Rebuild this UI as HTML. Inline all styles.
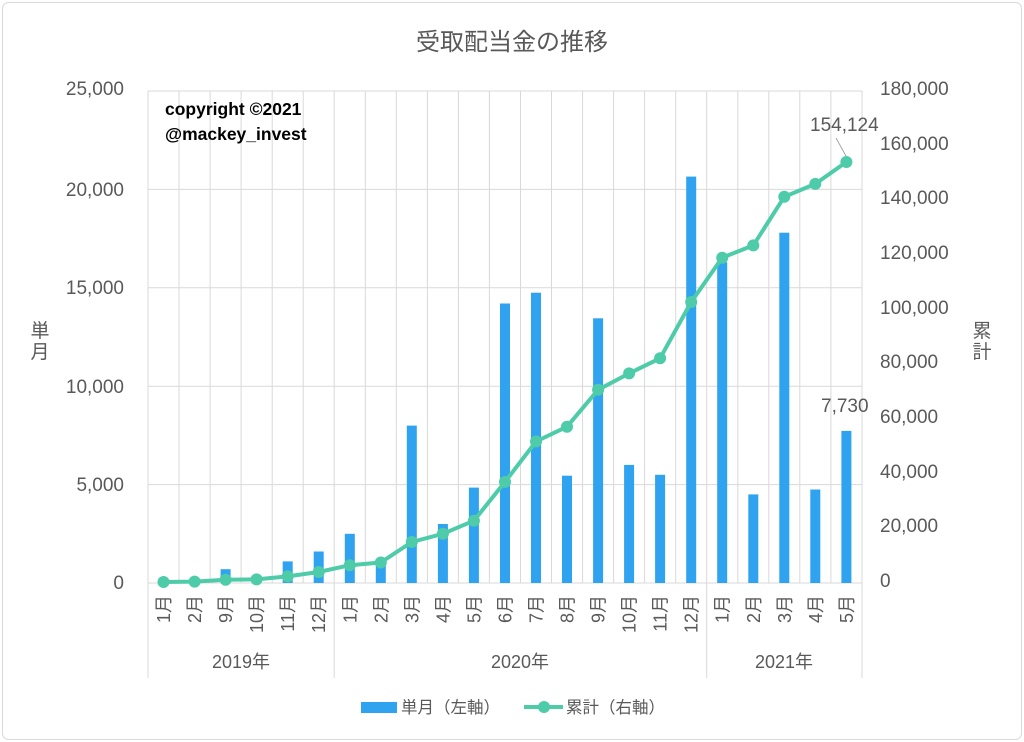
<!DOCTYPE html>
<html><head><meta charset="utf-8"><style>
body{margin:0;background:#fff}
svg{display:block;font-family:"Liberation Sans","Noto Sans CJK JP",sans-serif}
.t{fill:#595959;font-size:19px}
.c{fill:#595959;font-size:18px}
</style></head><body>
<svg width="1024" height="742" viewBox="0 0 1024 742">
<rect x="2.5" y="2.5" width="1019" height="737" rx="6" fill="#fff" stroke="#d9d9d9"/>
<text x="512" y="50" text-anchor="middle" fill="#595959" font-size="24">受取配当金の推移</text>
<g stroke="#d9d9d9" stroke-width="1">
<line x1="148" y1="91" x2="862" y2="91"/><line x1="148" y1="189.4" x2="862" y2="189.4"/><line x1="148" y1="287.8" x2="862" y2="287.8"/><line x1="148" y1="386.2" x2="862" y2="386.2"/><line x1="148" y1="484.6" x2="862" y2="484.6"/>
<line x1="148" y1="91" x2="148" y2="678"/><line x1="179" y1="91" x2="179" y2="583"/><line x1="210.1" y1="91" x2="210.1" y2="583"/><line x1="241.1" y1="91" x2="241.1" y2="583"/><line x1="272.2" y1="91" x2="272.2" y2="583"/><line x1="303.2" y1="91" x2="303.2" y2="583"/><line x1="334.2" y1="91" x2="334.2" y2="678"/><line x1="365.3" y1="91" x2="365.3" y2="583"/><line x1="396.3" y1="91" x2="396.3" y2="583"/><line x1="427.4" y1="91" x2="427.4" y2="583"/><line x1="458.4" y1="91" x2="458.4" y2="583"/><line x1="489.4" y1="91" x2="489.4" y2="583"/><line x1="520.5" y1="91" x2="520.5" y2="583"/><line x1="551.5" y1="91" x2="551.5" y2="583"/><line x1="582.6" y1="91" x2="582.6" y2="583"/><line x1="613.6" y1="91" x2="613.6" y2="583"/><line x1="644.6" y1="91" x2="644.6" y2="583"/><line x1="675.7" y1="91" x2="675.7" y2="583"/><line x1="706.7" y1="91" x2="706.7" y2="678"/><line x1="737.8" y1="91" x2="737.8" y2="583"/><line x1="768.8" y1="91" x2="768.8" y2="583"/><line x1="799.8" y1="91" x2="799.8" y2="583"/><line x1="830.9" y1="91" x2="830.9" y2="583"/><line x1="862" y1="91" x2="862" y2="678"/>
<line x1="148" y1="583" x2="862" y2="583"/>
</g>
<g fill="#2fa3ef">
<rect x="158.5" y="582" width="10" height="1"/><rect x="189.6" y="581" width="10" height="2"/><rect x="220.6" y="569.2" width="10" height="13.8"/><rect x="251.6" y="580" width="10" height="3"/><rect x="282.7" y="561.4" width="10" height="21.6"/><rect x="313.7" y="551.5" width="10" height="31.5"/><rect x="344.8" y="533.8" width="10" height="49.2"/><rect x="375.8" y="563.3" width="10" height="19.7"/><rect x="406.8" y="425.6" width="10" height="157.4"/><rect x="437.9" y="524" width="10" height="59"/><rect x="468.9" y="487.6" width="10" height="95.4"/><rect x="500" y="303.5" width="10" height="279.5"/><rect x="531" y="292.7" width="10" height="290.3"/><rect x="562" y="475.7" width="10" height="107.3"/><rect x="593.1" y="318.3" width="10" height="264.7"/><rect x="624.1" y="464.9" width="10" height="118.1"/><rect x="655.1" y="474.8" width="10" height="108.2"/><rect x="686.2" y="176.6" width="10" height="406.4"/><rect x="717.2" y="262.2" width="10" height="320.8"/><rect x="748.3" y="494.4" width="10" height="88.6"/><rect x="779.3" y="232.7" width="10" height="350.3"/><rect x="810.3" y="489.5" width="10" height="93.5"/><rect x="841.4" y="430.9" width="10" height="152.1"/>
</g>
<polyline fill="none" stroke="#4ecba8" stroke-width="4" stroke-linejoin="round" points="163.5,582 194.6,581.6 225.6,579.7 256.6,579.4 287.7,576.4 318.7,572 349.8,565.2 380.8,562.5 411.8,542 442.9,533.8 473.9,520.7 505,481.9 536,441.5 567,426.7 598.1,389.8 629.1,373.4 660.1,358.3 691.2,302 722.2,257.7 753.3,245.4 784.3,196.8 815.3,183.9 846.4,162"/>
<g fill="#4ecba8">
<circle cx="163.5" cy="582" r="6"/><circle cx="194.6" cy="581.6" r="6"/><circle cx="225.6" cy="579.7" r="6"/><circle cx="256.6" cy="579.4" r="6"/><circle cx="287.7" cy="576.4" r="6"/><circle cx="318.7" cy="572" r="6"/><circle cx="349.8" cy="565.2" r="6"/><circle cx="380.8" cy="562.5" r="6"/><circle cx="411.8" cy="542" r="6"/><circle cx="442.9" cy="533.8" r="6"/><circle cx="473.9" cy="520.7" r="6"/><circle cx="505" cy="481.9" r="6"/><circle cx="536" cy="441.5" r="6"/><circle cx="567" cy="426.7" r="6"/><circle cx="598.1" cy="389.8" r="6"/><circle cx="629.1" cy="373.4" r="6"/><circle cx="660.1" cy="358.3" r="6"/><circle cx="691.2" cy="302" r="6"/><circle cx="722.2" cy="257.7" r="6"/><circle cx="753.3" cy="245.4" r="6"/><circle cx="784.3" cy="196.8" r="6"/><circle cx="815.3" cy="183.9" r="6"/><circle cx="846.4" cy="162" r="6"/>
</g>
<line x1="846" y1="156" x2="836" y2="138" stroke="#a6a6a6"/>
<text class="t" x="810" y="131">154,124</text>
<text class="t" x="821" y="412">7,730</text>
<text x="165" y="115" font-size="17.5" font-weight="bold" fill="#000">copyright ©2021</text>
<text x="165" y="140" font-size="17.5" font-weight="bold" fill="#000">@mackey_invest</text>
<g class="t" text-anchor="end">
<text x="124" y="95">25,000</text><text x="124" y="196">20,000</text><text x="124" y="294">15,000</text><text x="124" y="393">10,000</text><text x="124" y="491">5,000</text><text x="124" y="589">0</text>
</g>
<g class="t" text-anchor="start">
<text x="880" y="95">180,000</text><text x="880" y="150">160,000</text><text x="880" y="204">140,000</text><text x="880" y="259">120,000</text><text x="880" y="314">100,000</text><text x="880" y="368">80,000</text><text x="880" y="423">60,000</text><text x="880" y="478">40,000</text><text x="880" y="532">20,000</text><text x="880" y="587">0</text>
</g>
<text class="t" x="40" y="337" text-anchor="middle">単</text><text class="t" x="40" y="358" text-anchor="middle">月</text>
<text class="t" x="982" y="337" text-anchor="middle">累</text><text class="t" x="982" y="358" text-anchor="middle">計</text>
<g class="c" text-anchor="end">
<text transform="translate(170,595) rotate(-90)">1月</text>
<text transform="translate(201.1,595) rotate(-90)">2月</text>
<text transform="translate(232.1,595) rotate(-90)">9月</text>
<text transform="translate(263.1,595) rotate(-90)">10月</text>
<text transform="translate(294.2,595) rotate(-90)">11月</text>
<text transform="translate(325.2,595) rotate(-90)">12月</text>
<text transform="translate(356.3,595) rotate(-90)">1月</text>
<text transform="translate(387.3,595) rotate(-90)">2月</text>
<text transform="translate(418.3,595) rotate(-90)">3月</text>
<text transform="translate(449.4,595) rotate(-90)">4月</text>
<text transform="translate(480.4,595) rotate(-90)">5月</text>
<text transform="translate(511.5,595) rotate(-90)">6月</text>
<text transform="translate(542.5,595) rotate(-90)">7月</text>
<text transform="translate(573.5,595) rotate(-90)">8月</text>
<text transform="translate(604.6,595) rotate(-90)">9月</text>
<text transform="translate(635.6,595) rotate(-90)">10月</text>
<text transform="translate(666.6,595) rotate(-90)">11月</text>
<text transform="translate(697.7,595) rotate(-90)">12月</text>
<text transform="translate(728.7,595) rotate(-90)">1月</text>
<text transform="translate(759.8,595) rotate(-90)">2月</text>
<text transform="translate(790.8,595) rotate(-90)">3月</text>
<text transform="translate(821.8,595) rotate(-90)">4月</text>
<text transform="translate(852.9,595) rotate(-90)">5月</text>
</g>
<g fill="#595959" font-size="18" text-anchor="middle">
<text x="241" y="668">2019年</text><text x="520" y="668">2020年</text><text x="784" y="668">2021年</text>
</g>
<rect x="361" y="702" width="36" height="11" fill="#2fa3ef"/>
<text fill="#595959" font-size="16.5" x="401" y="713">単月（左軸）</text>
<line x1="524" y1="707" x2="563" y2="707" stroke="#4ecba8" stroke-width="4"/>
<circle cx="544" cy="707" r="6" fill="#4ecba8"/>
<text fill="#595959" font-size="16.5" x="566" y="713">累計（右軸）</text>
</svg>
</body></html>
